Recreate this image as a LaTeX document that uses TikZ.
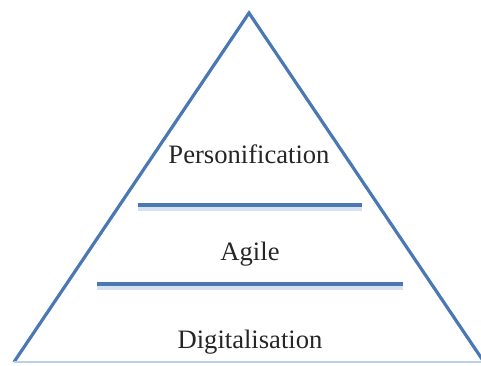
\documentclass[tikz,border=0pt]{standalone}
\usepackage{fontspec}
\setmainfont{Liberation Serif}
\definecolor{pyrblue}{HTML}{4A78B4}
\definecolor{pyrshade}{HTML}{D8E2EE}
\definecolor{pyrbase}{HTML}{B8D0EA}
\begin{document}
\begin{tikzpicture}[x=0.5pt,y=-0.5pt]
\useasboundingbox (0,0) rectangle (481,365);
\coordinate (top) at (249,13);
\coordinate (bl) at (14,362);
\coordinate (br) at (484,362);
\draw[pyrblue, line width=1.6pt, line join=miter] (bl) -- (top) -- (br);
\draw[pyrbase, line width=0.8pt] (bl) -- (br);
\coordinate (up1) at (138,205);
\coordinate (up2) at (362,205);
\coordinate (lo1) at (97,284);
\coordinate (lo2) at (403,284);
\draw[pyrshade, line width=2pt] ([yshift=-1.8pt]up1) -- ([yshift=-1.8pt]up2);
\draw[pyrshade, line width=2pt] ([yshift=-1.8pt]lo1) -- ([yshift=-1.8pt]lo2);
\draw[pyrblue, line width=2pt] (up1) -- (up2);
\draw[pyrblue, line width=2pt] (lo1) -- (lo2);
\node[font=\fontsize{13.3}{16}\selectfont, text=black!85] (pers) at (249,154) {Personification};
\node[font=\fontsize{13.3}{16}\selectfont, text=black!85] (agile) at (250,254) {Agile};
\node[font=\fontsize{13.3}{16}\selectfont, text=black!85] (digi) at (250,342) {Digitalisation};
\end{tikzpicture}
\end{document}
